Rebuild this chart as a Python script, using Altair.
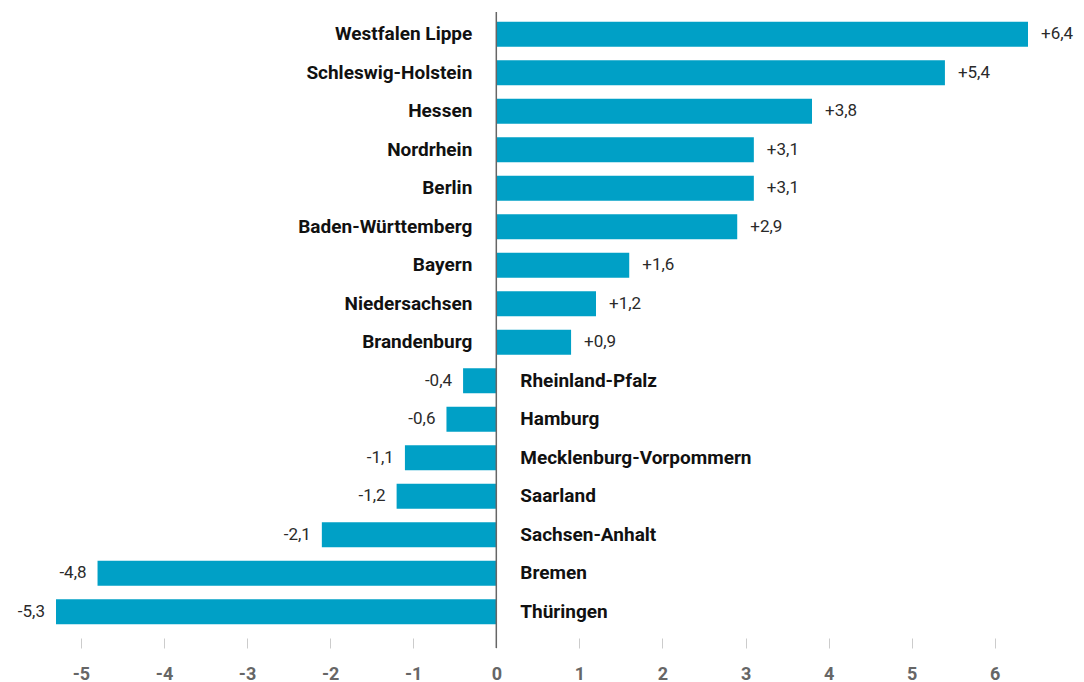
import altair as alt
import pandas as pd

regions = ["Westfalen Lippe", "Schleswig-Holstein", "Hessen", "Nordrhein", "Berlin",
           "Baden-Württemberg", "Bayern", "Niedersachsen", "Brandenburg",
           "Rheinland-Pfalz", "Hamburg", "Mecklenburg-Vorpommern", "Saarland",
           "Sachsen-Anhalt", "Bremen", "Thüringen"]
values = [6.4, 5.4, 3.8, 3.1, 3.1, 2.9, 1.6, 1.2, 0.9,
          -0.4, -0.6, -1.1, -1.2, -2.1, -4.8, -5.3]
x_ticks = [-5, -4, -3, -2, -1, 0, 1, 2, 3, 4, 5, 6]

df = pd.DataFrame({"region": regions, "value": values})
df["label"] = [f"{v:+.1f}".replace(".", ",") for v in values]

FONT = "Roboto, sans-serif"
W, H = 972, 616

x = alt.X("value:Q", scale=alt.Scale(domain=[-5.3, 6.4], nice=False, zero=True),
          axis=alt.Axis(values=x_ticks, title=None, grid=False, domain=False,
                        labelExpr="datum.value",
                        tickColor="#cccccc", tickSize=10, tickWidth=1, offset=7,
                        labelFont=FONT, labelFontSize=18, labelFontWeight="bold",
                        labelColor="#666666", labelPadding=17))
y = alt.Y("region:N", sort=regions,
          scale=alt.Scale(paddingInner=0.35, paddingOuter=0.175), axis=None)

base = alt.Chart(df)

bars = base.mark_bar(color="#00a0c6").encode(x=x, y=y)

pos_names = base.transform_filter("datum.value >= 0").mark_text(
    align="right", dx=-24, font=FONT, fontSize=19, fontWeight="bold", color="#111111"
).encode(x=alt.datum(0), y=y, text="region:N")

neg_names = base.transform_filter("datum.value < 0").mark_text(
    align="left", dx=24, font=FONT, fontSize=19, fontWeight="bold", color="#111111"
).encode(x=alt.datum(0), y=y, text="region:N")

pos_vals = base.transform_filter("datum.value >= 0").mark_text(
    align="left", dx=13, font=FONT, fontSize=17, color="#2a2a2a"
).encode(x="value:Q", y=y, text="label:N")

neg_vals = base.transform_filter("datum.value < 0").mark_text(
    align="right", dx=-11, font=FONT, fontSize=17, color="#2a2a2a"
).encode(x="value:Q", y=y, text="label:N")

zero = alt.Chart(pd.DataFrame({"z": [0]})).mark_rule(color="#666666", strokeWidth=1.5).encode(
    x=alt.X("z:Q"), y=alt.value(-3), y2=alt.value(H + 17))

chart = alt.layer(bars, zero, pos_names, neg_names, pos_vals, neg_vals).properties(
    width=W, height=H,
    background="white",
    autosize=alt.AutoSizeParams(type="none"),
    padding={"left": 56, "top": 15, "right": 56, "bottom": 51},
).configure_view(strokeWidth=0, stroke="transparent")

chart.save("out.html", embed_options={"renderer": "svg", "actions": False})
